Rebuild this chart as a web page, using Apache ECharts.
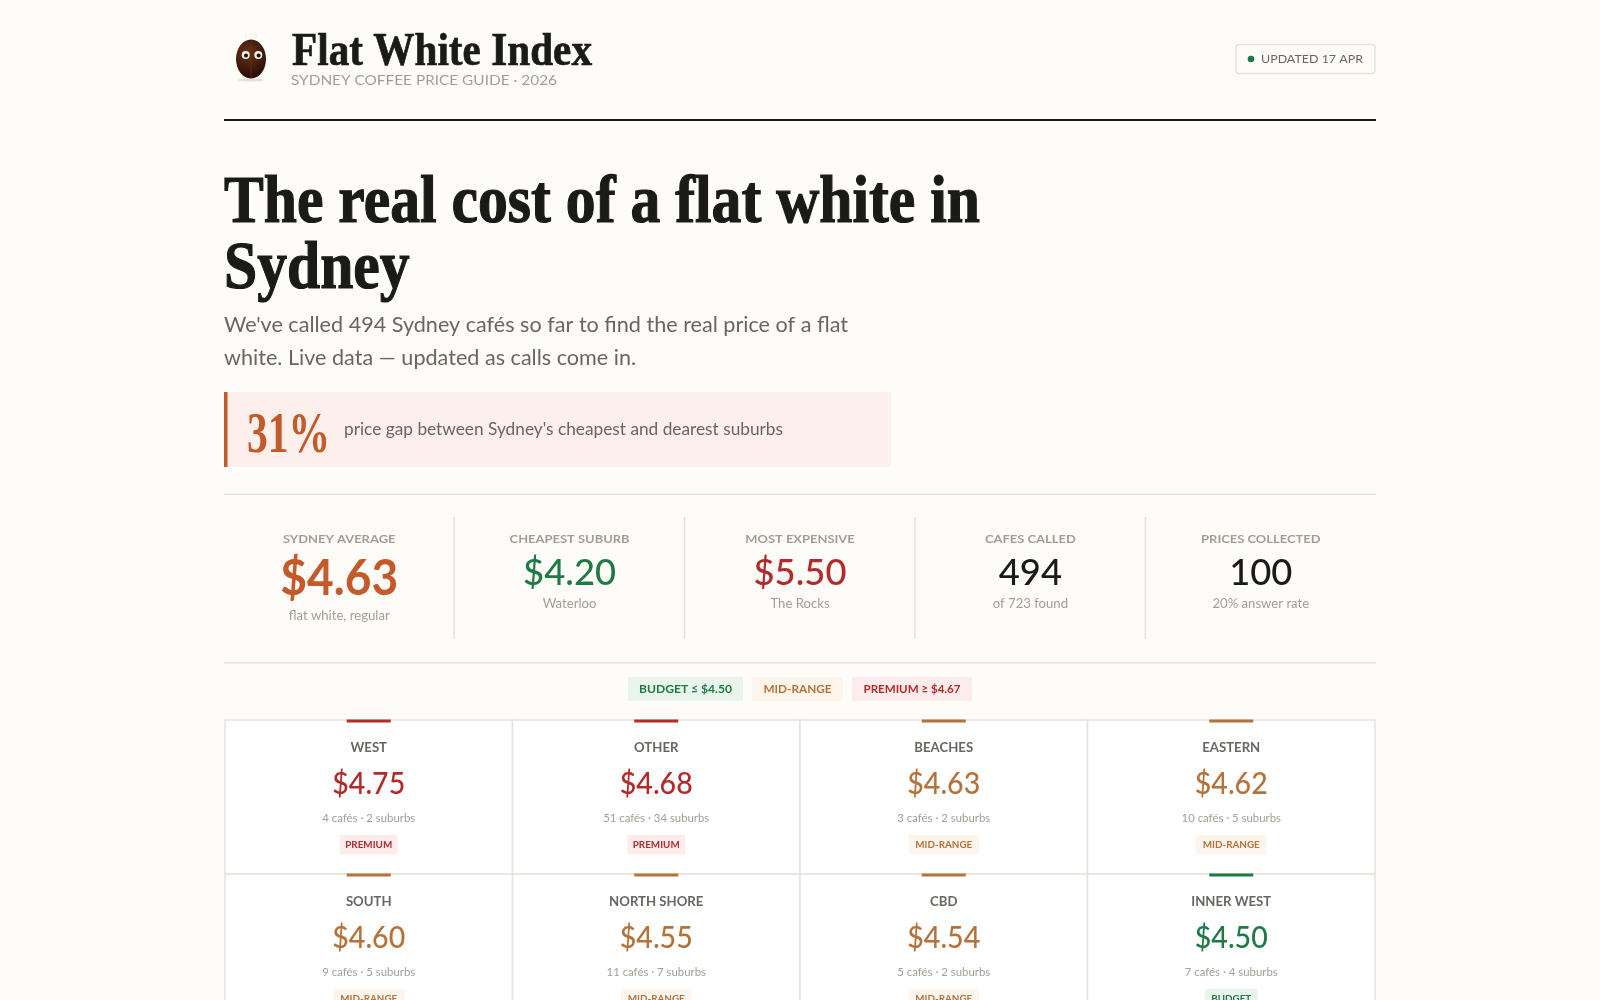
<!DOCTYPE html>
<html>
<head>
<meta charset="utf-8">
<title>Flat White Index</title>
<script src="https://cdn.jsdelivr.net/npm/echarts@6/dist/echarts.min.js"></script>
<style>
  html,body{margin:0;padding:0;background:#fdfcf8;overflow:hidden;}
  #main{width:1600px;height:1000px;}
</style>
</head>
<body>
<div id="main"></div>
<script>
var kpiLabels = ["SYDNEY AVERAGE", "CHEAPEST SUBURB", "MOST EXPENSIVE", "CAFES CALLED", "PRICES COLLECTED"];
var kpiValues = ["$4.63", "$4.20", "$5.50", "494", "100"];
var kpiNotes = ["flat white, regular", "Waterloo", "The Rocks", "of 723 found", "20% answer rate"];
var kpiKinds = ["lead", "budget", "premium", "plain", "plain"];

var legendLabels = ["BUDGET \u2264 $4.50", "MID-RANGE", "PREMIUM \u2265 $4.67"];
var legendKinds = ["budget", "mid", "premium"];

var regions = ["WEST", "OTHER", "BEACHES", "EASTERN", "SOUTH", "NORTH SHORE", "CBD", "INNER WEST"];
var prices = [4.75, 4.68, 4.63, 4.62, 4.60, 4.55, 4.54, 4.50];
var cafes = [4, 51, 3, 10, 9, 11, 5, 7];
var suburbs = [2, 34, 2, 5, 5, 7, 2, 4];
var tiers = ["premium", "premium", "mid", "mid", "mid", "mid", "mid", "budget"];
var tierNames = {premium: "PREMIUM", mid: "MID-RANGE", budget: "BUDGET"};

var cardCols = ["c1", "c2", "c3", "c4"];

var ink = "#1a1a18", body = "#6b6560", faint = "#a39d94", line = "#e5e2da";
var colors = {lead: "#c4592a", budget: "#1f7a45", premium: "#b22a2a", mid: "#b5723a", plain: ink};
var tints = {budget: "#e8f4ec", premium: "#fdecec", mid: "#fdf5ec"};

var sans = "Lato", serif = "'Liberation Serif'";

var measureCtx = document.createElement("canvas").getContext("2d");
// horizontal stretch that makes a string come out at a given width
function fit(text, size, weight, family, width) {
  measureCtx.font = weight + " " + size + "px " + family;
  return width / measureCtx.measureText(text).width;
}

function txt(text, x, y, size, weight, color, align, sx, family, thick) {
  return {
    type: "text", x: x, y: y, scaleX: sx || 1, silent: true,
    style: {
      text: text, x: 0, y: 0, fill: color, align: align || "left", verticalAlign: "middle",
      font: weight + " " + size + "px " + (family || sans),
      stroke: thick ? color : null, lineWidth: thick || 0
    }
  };
}

var headSx = fit("The real cost of a flat white in", 68, 700, serif, 756);
var subSx = fit("We've called 494 Sydney caf\u00e9s so far to find the real price of a flat", 21.5, 400, sans, 624);

var header = [
  // bean mascot
  {type: "ellipse", shape: {cx: 251, cy: 80, rx: 13, ry: 1.6}, style: {fill: "#e4e1da"}},
  {type: "line", shape: {x1: 246, y1: 33, x2: 246, y2: 38}, style: {stroke: "#efece6", lineWidth: 1}},
  {type: "line", shape: {x1: 256, y1: 33, x2: 256, y2: 38}, style: {stroke: "#efece6", lineWidth: 1}},
  {type: "ellipse", shape: {cx: 251, cy: 59, rx: 15, ry: 19.5}, style: {
    fill: new echarts.graphic.RadialGradient(0.4, 0.35, 0.75, [{offset: 0, color: "#6a3418"}, {offset: 1, color: "#2c0f08"}])
  }},
  {type: "line", shape: {x1: 251, y1: 41, x2: 251, y2: 77}, style: {stroke: "#5c3018", lineWidth: 1}},
  {type: "circle", shape: {cx: 245.7, cy: 55, r: 4}, style: {fill: "#f5f1ea"}},
  {type: "circle", shape: {cx: 258.3, cy: 55, r: 4}, style: {fill: "#f5f1ea"}},
  {type: "circle", shape: {cx: 246, cy: 55.5, r: 2}, style: {fill: "#22100a"}},
  {type: "circle", shape: {cx: 258.6, cy: 55.5, r: 2}, style: {fill: "#22100a"}},

  txt("Flat White Index", 292, 53, 47, 700, ink, "left", fit("Flat White Index", 47, 700, serif, 300), serif, 0.7),
  txt("SYDNEY COFFEE PRICE GUIDE \u00b7 2026", 291, 81, 12.5, 400, faint, "left", fit("SYDNEY COFFEE PRICE GUIDE \u00b7 2026", 12.5, 400, sans, 266)),

  {type: "rect", shape: {x: 1236, y: 44.5, width: 139, height: 29, r: 3}, style: {fill: "#fdfcf8", stroke: line, lineWidth: 1.5}},
  {type: "circle", shape: {cx: 1251, cy: 59, r: 3.3}, style: {fill: colors.budget}},
  txt("UPDATED 17 APR", 1261, 59, 12, 400, body, "left", fit("UPDATED 17 APR", 12, 400, sans, 102)),
  {type: "rect", shape: {x: 224, y: 119, width: 1152, height: 2}, style: {fill: ink}},

  txt("The real cost of a flat white in", 224, 204, 68, 700, ink, "left", headSx, serif, 1.2),
  txt("Sydney", 224, 270, 68, 700, ink, "left", headSx, serif, 1.2),
  txt("We've called 494 Sydney caf\u00e9s so far to find the real price of a flat", 224, 325, 21.5, 400, body, "left", subSx),
  txt("white. Live data \u2014 updated as calls come in.", 224, 358.5, 21.5, 400, body, "left", subSx),

  {type: "rect", shape: {x: 224, y: 392, width: 667, height: 75}, style: {fill: "#fdf0ec"}},
  {type: "rect", shape: {x: 224, y: 392, width: 3.5, height: 75}, style: {fill: colors.lead}},
  txt("31%", 247, 437, 58, 700, colors.lead, "left", fit("31%", 58, 700, serif, 83), serif),
  txt("price gap between Sydney's cheapest and dearest suburbs", 344, 430, 17, 400, body, "left", fit("price gap between Sydney's cheapest and dearest suburbs", 17, 400, sans, 439)),

  {type: "rect", shape: {x: 224, y: 493.5, width: 1152, height: 1.5}, style: {fill: line}},
  {type: "rect", shape: {x: 224, y: 662, width: 1152, height: 1.5}, style: {fill: line}}
];

// legend pills sit side by side around the page centre
var legendBoxes = [[628, 115, 93], [752, 91, 68], [852, 120, 97]];
legendLabels.forEach(function (label, i) {
  var b = legendBoxes[i], kind = legendKinds[i];
  header.push({type: "rect", shape: {x: b[0], y: 677, width: b[1], height: 24, r: 2}, style: {fill: tints[kind]}});
  header.push(txt(label, b[0] + b[1] / 2, 689, 12, 700, colors[kind], "center", fit(label, 12, 700, sans, b[2])));
});

var kpiLabelSx = fit("CHEAPEST SUBURB", 12, 700, sans, 120);
var kpiNoteSx = fit("flat white, regular", 13.5, 400, sans, 101);
var leadSx = fit("$4.63", 49, 700, sans, 118);
var kpiSx = fit("$4.20", 36, 500, sans, 93);

function renderKpi(params, api) {
  var i = params.dataIndex;
  var c = api.coord([api.value(0), 0]);
  var s = api.size([1, 1]);
  var lead = kpiKinds[i] === "lead";
  var x = c[0], top = params.coordSys.y;
  var kids = [
    txt(kpiLabels[i], x, 539.5, 12, 700, faint, "center", kpiLabelSx),
    lead ? txt(kpiValues[i], x, 579, 49, 700, colors.lead, "center", leadSx)
         : txt(kpiValues[i], x, 573, 36, 500, colors[kpiKinds[i]], "center", kpiSx),
    txt(kpiNotes[i], x, lead ? 616 : 604, 13.5, 400, faint, "center", kpiNoteSx)
  ];
  if (i < kpiLabels.length - 1) {
    kids.push({type: "rect", shape: {x: x + s[0] / 2 - 1, y: top, width: 1.5, height: params.coordSys.height}, style: {fill: line}});
  }
  return {type: "group", children: kids};
}

var cardLabelSx = fit("INNER WEST", 12.5, 700, sans, 80);
var priceSx = fit("$4.68", 30, 500, sans, 73);
var cardNoteSx = fit("51 caf\u00e9s \u00b7 34 suburbs", 12, 400, sans, 106);
var badgeSx = fit("MID-RANGE", 10, 700, sans, 57);
var badgeW = {premium: 58, mid: 71, budget: 53};

function renderCard(params, api) {
  var i = params.dataIndex;
  // row axis is a value axis, so coord gives the top edge of a row
  var c = api.coord([api.value(0), api.value(1)]);
  var s = api.size([1, 1]);
  var tier = tiers[i], w = badgeW[tier];
  var x = c[0], top = c[1];
  return {type: "group", children: [
    {type: "rect", shape: {x: x - s[0] / 2, y: top, width: s[0], height: s[1]}, style: {fill: "#fff", stroke: line, lineWidth: 1.5}},
    {type: "rect", shape: {x: x - 22, y: top - 0.5, width: 44, height: 3}, style: {fill: colors[tier]}},
    txt(regions[i], x, top + 27.5, 12.5, 700, body, "center", cardLabelSx),
    txt("$" + prices[i].toFixed(2), x, top + 64, 30, 500, colors[tier], "center", priceSx),
    txt(cafes[i] + " caf\u00e9s \u00b7 " + suburbs[i] + " suburbs", x, top + 98, 12, 400, faint, "center", cardNoteSx),
    {type: "rect", shape: {x: x - w / 2, y: top + 115, width: w, height: 19.5, r: 2}, style: {fill: tints[tier]}},
    txt(tierNames[tier], x, top + 125, 10, 700, colors[tier], "center", badgeSx)
  ]};
}

var chart = echarts.init(document.getElementById("main"));
chart.setOption({
  animation: false,
  backgroundColor: "#fdfcf8",
  graphic: header,
  grid: [
    {left: 224, top: 517, width: 1152, height: 122},
    {left: 225, top: 720, width: 1150, height: 280}
  ],
  xAxis: [
    {type: "category", gridIndex: 0, data: kpiLabels, show: false},
    {type: "category", gridIndex: 1, data: cardCols, show: false}
  ],
  yAxis: [
    {type: "category", gridIndex: 0, data: ["kpi"], show: false},
    // the page is cut off partway down the second row of cards
    {type: "value", gridIndex: 1, min: 0, max: 1.818, inverse: true, show: false}
  ],
  series: [
    {
      type: "custom", xAxisIndex: 0, yAxisIndex: 0, silent: true,
      renderItem: renderKpi,
      data: kpiLabels.map(function (d, i) { return [i, 0]; })
    },
    {
      type: "custom", xAxisIndex: 1, yAxisIndex: 1, silent: true,
      renderItem: renderCard,
      data: regions.map(function (d, i) { return [i % cardCols.length, Math.floor(i / cardCols.length)]; })
    }
  ]
});
</script>
</body>
</html>
